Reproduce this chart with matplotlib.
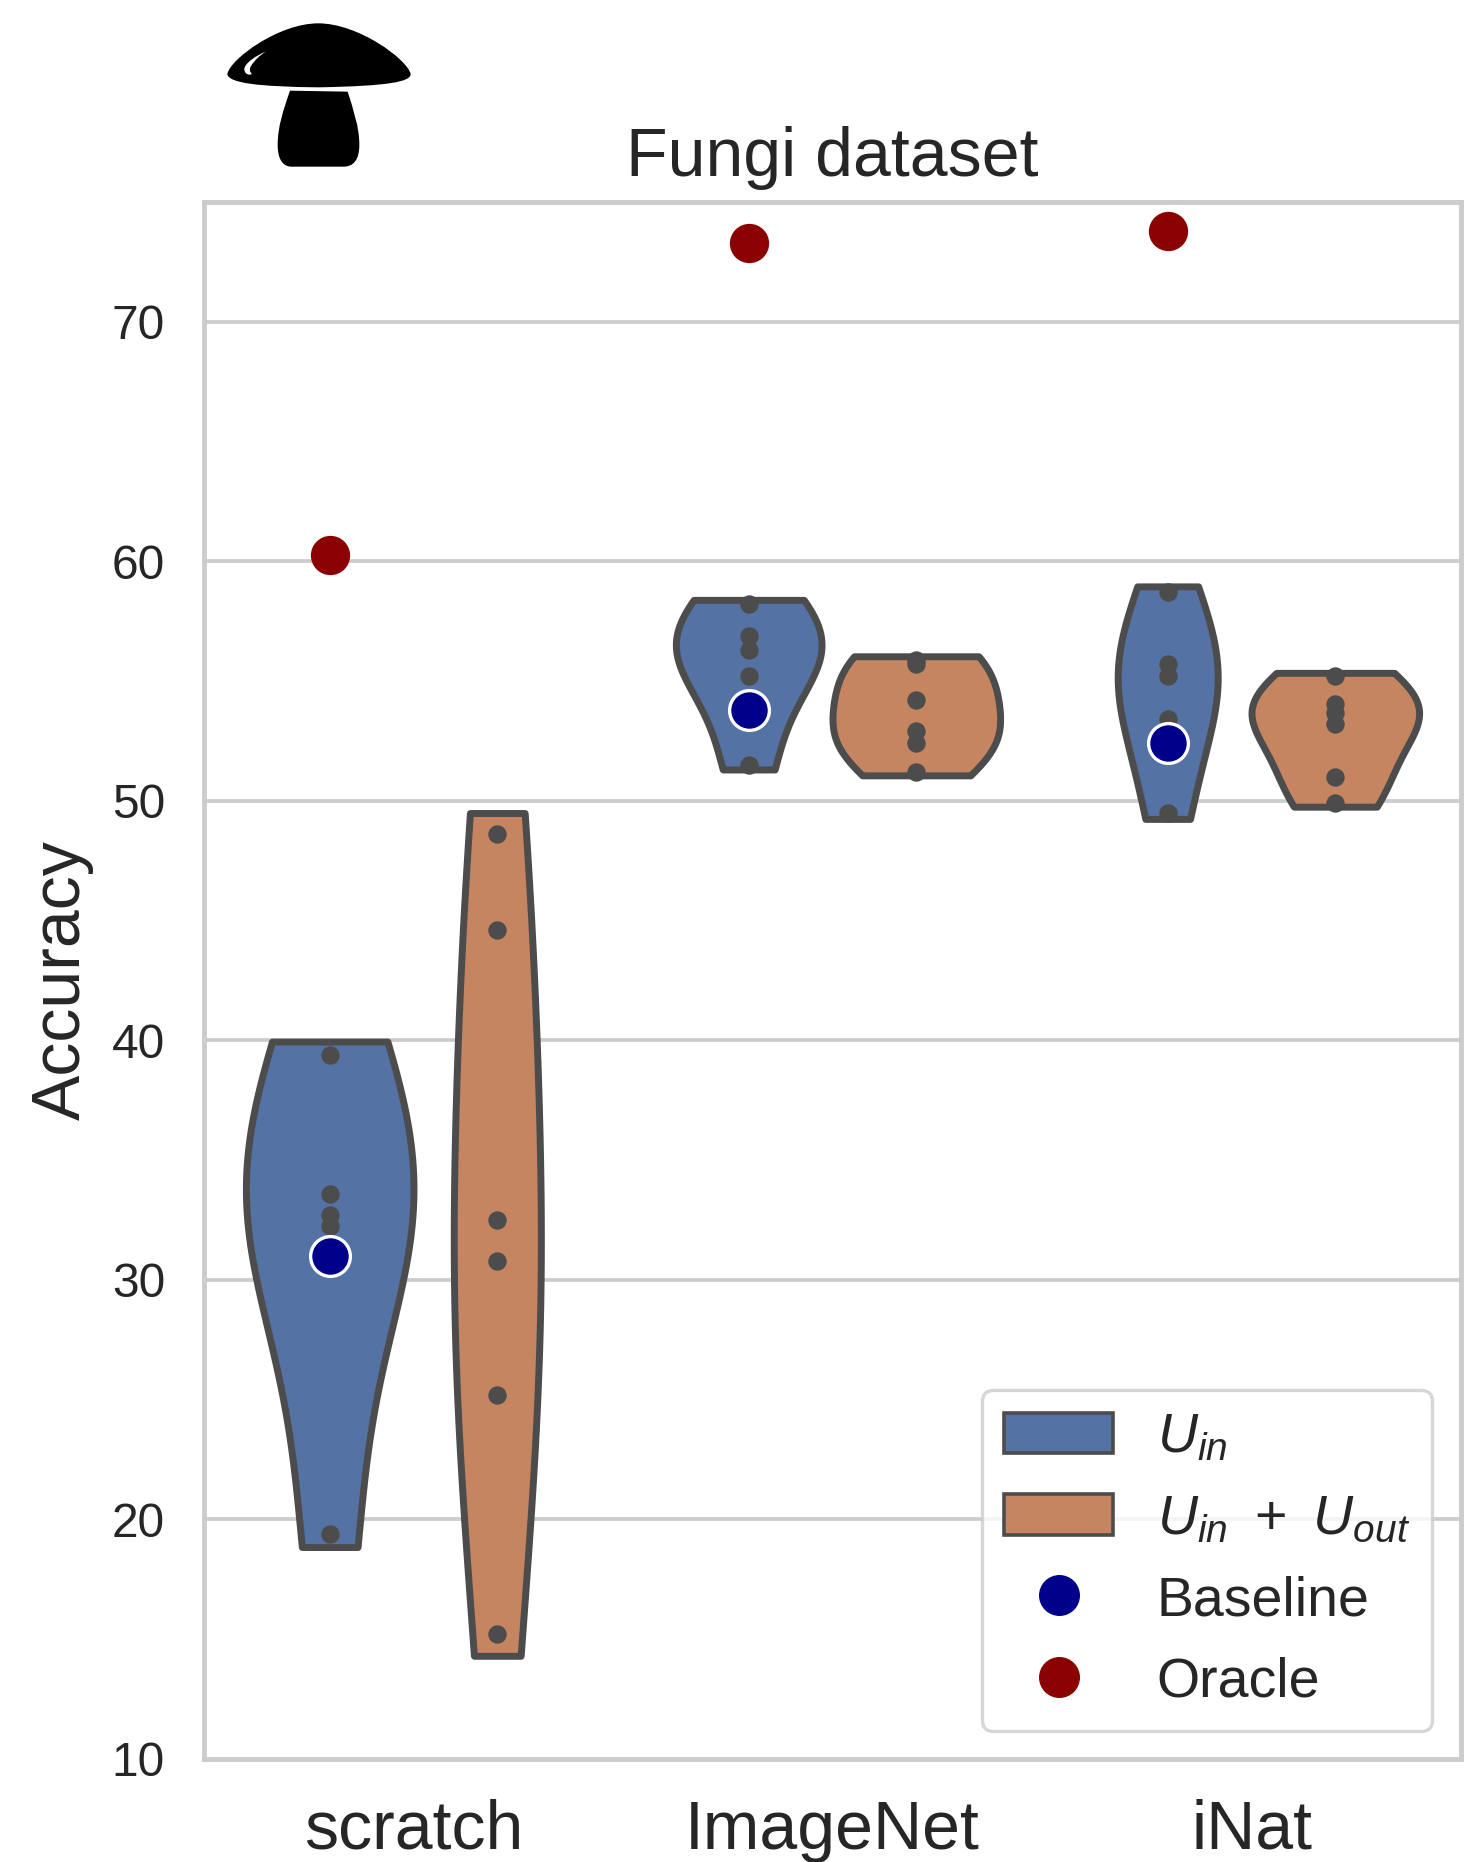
import matplotlib
matplotlib.use("Agg")
import matplotlib.pyplot as plt
from matplotlib.lines import Line2D
from matplotlib.patches import Patch, PathPatch
from matplotlib.path import Path
import pandas as pd
import seaborn as sns

categories = ["scratch", "ImageNet", "iNat"]
series_names = [r"$U_{in}$", r"$U_{in}\;\hspace{0.08}+\;\hspace{0.08}U_{out}$"]
series_colors = ["#5572a5", "#c68561"]

scratch_in = [39.4, 33.6, 32.7, 32.25, 19.4]
scratch_both = [48.6, 44.6, 32.5, 30.8, 25.2, 15.2]
imagenet_in = [58.2, 56.9, 56.3, 55.2, 51.5]
imagenet_both = [55.9, 55.7, 54.2, 52.9, 52.4, 51.2]
inat_in = [58.7, 55.7, 55.2, 53.4, 49.5]
inat_both = [55.2, 54.05, 53.65, 53.2, 51.0, 49.9]

baseline = [31.0, 53.8, 52.4]
oracle = [60.25, 73.3, 73.8]

yticks = [10, 20, 30, 40, 50, 60, 70]

sns.set_theme(style="whitegrid")
plt.rcParams["font.family"] = ["Liberation Sans", "DejaVu Sans"]
plt.rcParams["mathtext.fontset"] = "custom"
plt.rcParams["mathtext.rm"] = "Liberation Sans"
plt.rcParams["mathtext.it"] = "Liberation Sans:italic"
plt.rcParams["mathtext.bf"] = "Liberation Sans:bold"

rows = []
groups = [
    ("scratch", series_names[0], scratch_in),
    ("scratch", series_names[1], scratch_both),
    ("ImageNet", series_names[0], imagenet_in),
    ("ImageNet", series_names[1], imagenet_both),
    ("iNat", series_names[0], inat_in),
    ("iNat", series_names[1], inat_both),
]
for cat, name, vals in groups:
    for v in vals:
        rows.append({"init": cat, "pool": name, "acc": v})
df = pd.DataFrame(rows)

W, H = 1466, 1862
fig = plt.figure(figsize=(W / 100, H / 100), dpi=100, facecolor="white")
ax = fig.add_axes([204 / W, 1 - 1759 / H, 1257 / W, 1557 / H])

# one call per category so that the densities are scaled within each category
for cat in categories:
    sns.violinplot(
        data=df[df["init"] == cat], x="init", y="acc", hue="pool",
        order=categories, hue_order=series_names, palette=series_colors, saturation=1,
        ax=ax, inner="point", cut=0.09, bw_adjust=1.15, density_norm="area",
        common_norm=True, linewidth=5, linecolor="#4c4c4c", legend=False,
        inner_kws={"s": 150},
    )

offset = 0.2
xs = [i - offset for i in range(len(categories))]
ax.scatter(xs, baseline, s=820, color="darkblue", edgecolor="white", linewidth=2.4, zorder=6)
ax.scatter(xs, oracle, s=800, color="darkred", linewidth=0, zorder=6)

ax.set_xlim(-0.5, 2.5)
ax.set_ylim(10, 75)
ax.set_yticks(yticks)
ax.set_xlabel("")
ax.set_ylabel("Accuracy", fontsize=49)
ax.yaxis.set_label_coords(-0.0875, 0.5)
ax.set_title("Fungi dataset", fontsize=49, pad=18.7, color=".15")
ax.tick_params(axis="y", labelsize=34.5, pad=28, length=0)
ax.tick_params(axis="x", labelsize=49, pad=28.6, length=0)
ax.grid(axis="y", color=".8", linewidth=2.7)
ax.grid(axis="x", visible=False)
for s in ax.spines.values():
    s.set_color(".8")
    s.set_linewidth(3.5)

handles = [
    Patch(facecolor=series_colors[0], edgecolor="#4c4c4c", linewidth=2.6, label=series_names[0]),
    Patch(facecolor=series_colors[1], edgecolor="#4c4c4c", linewidth=2.6, label=series_names[1]),
    Line2D([], [], linestyle="", marker="o", markersize=28.5, color="darkblue", label="Baseline"),
    Line2D([], [], linestyle="", marker="o", markersize=28.5, color="darkred", label="Oracle"),
]
leg = ax.legend(
    handles=handles, loc="lower right", bbox_to_anchor=(0.977, 0.018), borderaxespad=0,
    fontsize=40, handlelength=1.97, handleheight=0.75, labelspacing=0.53,
    handletextpad=0.78, borderpad=0.4, frameon=True, framealpha=0.8, edgecolor=".8",
)
leg.get_frame().set_linewidth(2.4)
for t in leg.get_texts():
    t.set_color(".15")

# mushroom icon, drawn in its own overlay axes
icon = fig.add_axes([200 / W, 1 - 190 / H, 260 / W, 190 / H])
icon.set_xlim(0, 780)
icon.set_ylim(570, 0)
icon.axis("off")
C = Path.CURVE4
M = Path.MOVETO
L = Path.LINETO
Z = Path.CLOSEPOLY
cap = Path(
    [(82, 222), (90, 178), (235, 70), (355, 70), (475, 70), (622, 178), (632, 222),
     (632, 245), (570, 258), (355, 262), (180, 260), (85, 250), (82, 222), (82, 222)],
    [M, C, C, C, C, C, C, C, C, C, C, C, C, Z],
)
shine = Path(
    [(198, 155), (170, 165), (133, 190), (133, 208), (133, 220), (145, 228), (156, 222),
     (148, 215), (147, 205), (155, 195), (165, 180), (180, 165), (198, 155), (198, 155)],
    [M, C, C, C, C, C, C, C, C, C, C, C, C, Z],
)
stem = Path(
    [(270, 272), (443, 275), (460, 330), (478, 380), (478, 435), (478, 480), (460, 500),
     (430, 500), (275, 500), (250, 500), (233, 480), (233, 435), (233, 380), (250, 330),
     (270, 272), (270, 272)],
    [M, L, C, C, C, C, C, C, L, C, C, C, C, C, C, Z],
)
icon.add_patch(PathPatch(cap, facecolor="black", edgecolor="none"))
icon.add_patch(PathPatch(shine, facecolor="white", edgecolor="none"))
icon.add_patch(PathPatch(stem, facecolor="black", edgecolor="none"))

fig.savefig("out.png", dpi=100)
